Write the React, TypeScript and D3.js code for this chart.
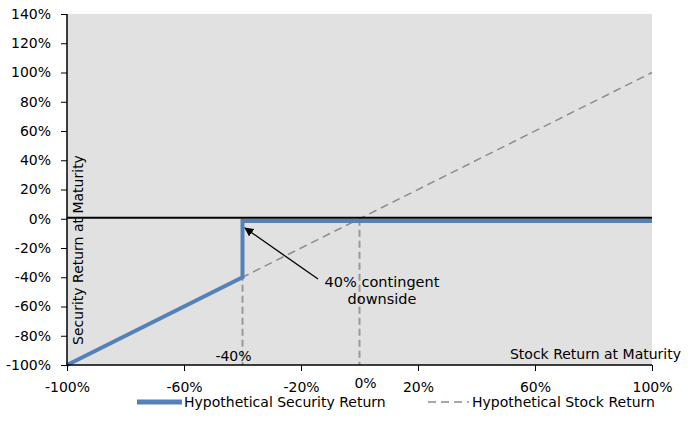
import * as d3 from "d3";
import * as React from "react";
import { useEffect, useRef } from "react";

// payoff data, returns as fractions
const securityX = [-1, -0.4, -0.4, 1];
const securityY = [-1, -0.4, -0.015, -0.015];
const stockX = [-1, 1];
const stockY = [-1, 1];
const xTicks = [-1, -0.6, -0.2, 0.2, 0.6, 1];
const yTicks = [-1, -0.8, -0.6, -0.4, -0.2, 0, 0.2, 0.4, 0.6, 0.8, 1, 1.2, 1.4];
const markerX = [-0.4, 0];

const W = 691;
const H = 438;
const FONT = "'DejaVu Sans', Verdana, sans-serif";
const BLUE = "#5581b9";
const GREY = "#8c8c8c";

// percent with a plain hyphen, like the original
const pct = (v: number) => Math.round(v * 100) + "%";

export default function App() {
  const ref = useRef<SVGSVGElement>(null);

  useEffect(() => {
    const svg = d3.select(ref.current);
    svg.selectAll("*").remove();

    const x = d3.scaleLinear().domain([-1, 1]).range([67, 652]);
    const y = d3.scaleLinear().domain([-1, 1.4]).range([365, 14]);

    // plot background
    svg
      .append("rect")
      .attr("x", x(-1))
      .attr("y", y(1.4))
      .attr("width", x(1) - x(-1))
      .attr("height", y(-1) - y(1.4))
      .attr("fill", "#e1e1e1");

    // vertical markers at -40% and 0%
    svg
      .selectAll("line.marker")
      .data(markerX)
      .enter()
      .append("line")
      .attr("class", "marker")
      .attr("x1", (d) => x(d))
      .attr("x2", (d) => x(d))
      .attr("y1", y(0))
      .attr("y2", y(-1))
      .attr("stroke", "#999")
      .attr("stroke-width", 2)
      .attr("stroke-dasharray", "7,4");

    const line = d3
      .line<[number, number]>()
      .x((d) => x(d[0]))
      .y((d) => y(d[1]));

    // stock return (dashed)
    svg
      .append("path")
      .attr("d", line(stockX.map((v, i) => [v, stockY[i]]) as [number, number][]))
      .attr("fill", "none")
      .attr("stroke", GREY)
      .attr("stroke-width", 1.5)
      .attr("stroke-dasharray", "8,5");

    // zero line
    svg
      .append("line")
      .attr("x1", x(-1))
      .attr("x2", x(1))
      .attr("y1", y(0) - 1)
      .attr("y2", y(0) - 1)
      .attr("stroke", "#000")
      .attr("stroke-width", 2);

    // security return
    svg
      .append("path")
      .attr("d", line(securityX.map((v, i) => [v, securityY[i]]) as [number, number][]))
      .attr("fill", "none")
      .attr("stroke", BLUE)
      .attr("stroke-width", 4);

    // axes
    const yAxis = svg
      .append("g")
      .attr("transform", `translate(${x(-1)},0)`)
      .call(d3.axisLeft(y).tickValues(yTicks).tickFormat((d) => pct(d as number)).tickSize(6).tickPadding(10));
    const xAxis = svg
      .append("g")
      .attr("transform", `translate(0,${y(-1)})`)
      .call(d3.axisBottom(x).tickValues(xTicks).tickFormat((d) => pct(d as number)).tickSize(6).tickPadding(11));

    [yAxis, xAxis].forEach((g) => {
      g.select(".domain").remove();
      g.selectAll(".tick line").attr("stroke", "#000");
      g.selectAll(".tick text").attr("fill", "#000").style("font-family", FONT).style("font-size", "14px");
    });
    svg
      .append("line")
      .attr("x1", x(-1))
      .attr("x2", x(-1))
      .attr("y1", y(1.4))
      .attr("y2", y(-1))
      .attr("stroke", "#000")
      .attr("stroke-width", 1.5);
    svg
      .append("line")
      .attr("x1", x(-1))
      .attr("x2", x(1))
      .attr("y1", y(-1))
      .attr("y2", y(-1))
      .attr("stroke", "#000")
      .attr("stroke-width", 1.5);

    const text = (tx: number, ty: number, s: string, anchor = "middle", size = 14) =>
      svg
        .append("text")
        .attr("x", tx)
        .attr("y", ty)
        .attr("text-anchor", anchor)
        .style("font-family", FONT)
        .style("font-size", size + "px")
        .attr("fill", "#000")
        .text(s);

    // axis titles
    text(681, 359, "Stock Return at Maturity", "end");
    svg
      .append("text")
      .attr("transform", `translate(83,250) rotate(-90)`)
      .attr("text-anchor", "middle")
      .style("font-family", FONT)
      .style("font-size", "14px")
      .text("Security Return at Maturity");

    // marker labels
    text(x(-0.4) - 9, 361, "-40%");
    text(x(0) + 6, 388, "0%");

    // annotation
    text(382, 287, "40% contingent", "middle", 14.5);
    text(382, 304, "downside", "middle", 14.5);
    const defs = svg.append("defs");
    defs
      .append("marker")
      .attr("id", "arrow")
      .attr("viewBox", "0 0 10 10")
      .attr("refX", 9)
      .attr("refY", 5)
      .attr("markerWidth", 7)
      .attr("markerHeight", 7)
      .attr("orient", "auto")
      .append("path")
      .attr("d", "M0,0L10,5L0,10z")
      .attr("fill", "#000");
    svg
      .append("line")
      .attr("x1", 318)
      .attr("y1", 279)
      .attr("x2", 245)
      .attr("y2", 228)
      .attr("stroke", "#000")
      .attr("stroke-width", 1.3)
      .attr("marker-end", "url(#arrow)");

    // legend
    svg
      .append("line")
      .attr("x1", 137)
      .attr("x2", 182)
      .attr("y1", 402)
      .attr("y2", 402)
      .attr("stroke", BLUE)
      .attr("stroke-width", 5);
    text(184, 407, "Hypothetical Security Return", "start");
    svg
      .append("line")
      .attr("x1", 428)
      .attr("x2", 469)
      .attr("y1", 402)
      .attr("y2", 402)
      .attr("stroke", GREY)
      .attr("stroke-width", 1.5)
      .attr("stroke-dasharray", "8,5");
    text(472, 407, "Hypothetical Stock Return", "start");
  }, []);

  return (
    <svg
      ref={ref}
      width={W}
      height={H}
      style={{ position: "absolute", left: 0, top: 0, background: "#fff" }}
    />
  );
}
